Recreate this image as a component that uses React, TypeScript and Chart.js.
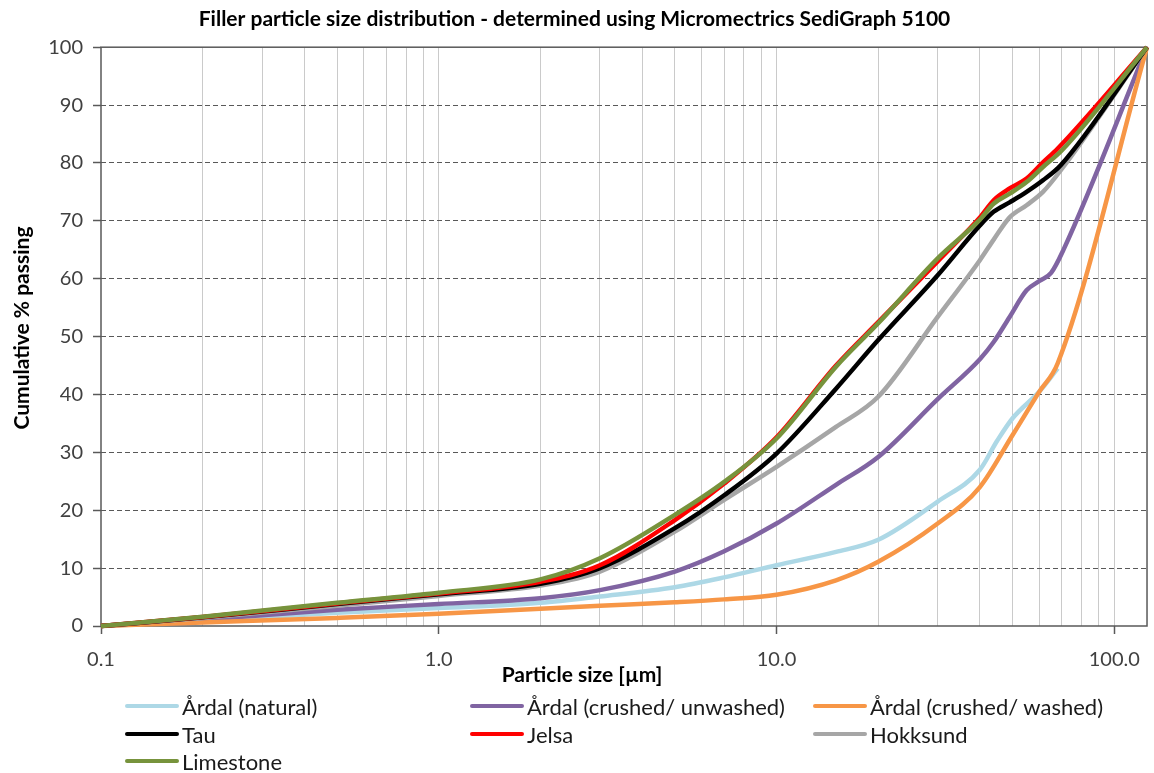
import React, { useEffect, useRef } from "react";
import { Chart, registerables } from "chart.js";

Chart.register(...registerables);

const chartTitle = "Filler particle size distribution - determined using Micromectrics SediGraph 5100";
const xAxisTitle = "Particle size [µm]";
const yAxisTitle = "Cumulative % passing";

const xGridValues = [
  0.1, 0.2, 0.3, 0.4, 0.5, 0.6, 0.7, 0.8, 0.9,
  1, 2, 3, 4, 5, 6, 7, 8, 9,
  10, 20, 30, 40, 50, 60, 70, 80, 90, 100,
];
const xMajorValues = [0.1, 1, 10, 100];
const xTickLabels = ["0.1", "1.0", "10.0", "100.0"];
const xMin = 0.1;
const xMax = 125;
const yTickValues = [0, 10, 20, 30, 40, 50, 60, 70, 80, 90, 100];

const seriesNames = [
  "Årdal (natural)",
  "Årdal (crushed/ unwashed)",
  "Årdal (crushed/ washed)",
  "Tau",
  "Jelsa",
  "Hokksund",
  "Limestone",
];
const seriesColors = ["#add8e6", "#8064a2", "#f79646", "#000000", "#ff0000", "#a6a6a6", "#77933c"];
const seriesOrder = [7, 6, 5, 3, 2, 4, 1];

const ardalNaturalSize = [0.1, 0.2, 0.5, 1, 2, 3, 5, 7, 10, 15, 20, 30, 40, 45, 50, 60, 68];
const ardalNaturalPassing = [0, 0.9, 2.3, 3.1, 4.0, 5.1, 6.7, 8.4, 10.5, 12.8, 14.9, 21.5, 27.0, 32.0, 35.9, 40.5, 44.5];

const ardalUnwashedSize = [0.1, 0.2, 0.5, 1, 2, 3, 5, 7, 10, 15, 20, 30, 40, 44, 49, 55, 60, 65, 70.6, 125];
const ardalUnwashedPassing = [0, 1.1, 2.8, 3.8, 4.8, 6.2, 9.4, 12.9, 17.7, 24.4, 29.2, 39.2, 46.1, 49.1, 53.4, 58.0, 59.6, 61.0, 64.9, 100];

const ardalWashedSize = [0.1, 0.2, 0.5, 1, 2, 3, 5, 7, 10, 15, 20, 30, 40, 50, 60, 68, 125];
const ardalWashedPassing = [0, 0.6, 1.4, 2.1, 3.0, 3.5, 4.1, 4.6, 5.4, 7.9, 11.1, 17.7, 24.0, 33.0, 40.5, 45.4, 100];

const tauSize = [0.1, 0.2, 0.5, 1, 2, 3, 5, 7, 10, 15, 20, 30, 40, 44, 49, 55, 61.5, 69.4, 125];
const tauPassing = [0, 1.5, 3.8, 5.5, 7.3, 10.0, 16.9, 22.6, 29.8, 41.0, 49.4, 60.6, 69.2, 71.6, 73.2, 75.0, 77.0, 79.6, 100];

const jelsaSize = [0.1, 0.2, 0.5, 1, 2, 3, 5, 7, 10, 15, 20, 30, 40, 44, 49, 55, 61.5, 68, 125];
const jelsaPassing = [0, 1.55, 3.9, 5.6, 7.65, 10.5, 18.3, 24.6, 32.6, 45.0, 52.5, 63.0, 70.6, 73.6, 75.6, 77.3, 80.1, 82.5, 100];

const hokksundSize = [0.1, 0.2, 0.5, 1, 2, 3, 5, 7, 10, 15, 20, 30, 40, 44, 49, 55, 61.5, 70, 125];
const hokksundPassing = [0, 1.4, 3.5, 5.2, 7.0, 9.4, 16.3, 21.8, 27.5, 34.4, 39.6, 53.4, 63.2, 66.8, 70.6, 72.7, 75.0, 79.0, 100];

const limestoneSize = [0.1, 0.2, 0.5, 1, 2, 3, 5, 7, 10, 15, 20, 30, 40, 44, 49, 55, 61.5, 70, 125];
const limestonePassing = [0, 1.6, 4.0, 5.75, 8.05, 11.7, 19.2, 24.9, 32.4, 44.8, 52.3, 63.5, 70.2, 73.0, 74.7, 76.7, 79.3, 82.2, 100];

const seriesSizes = [ardalNaturalSize, ardalUnwashedSize, ardalWashedSize, tauSize, jelsaSize, hokksundSize, limestoneSize];
const seriesPassing = [ardalNaturalPassing, ardalUnwashedPassing, ardalWashedPassing, tauPassing, jelsaPassing, hokksundPassing, limestonePassing];

const FONT = "Lato, 'Open Sans', sans-serif";
const W = 1154;
const H = 773;
const PLOT_LEFT = 101;
const PLOT_RIGHT = 1149;
const PLOT_BOTTOM = 626;

const legendColX = [125, 470, 813];
const legendRowY = [706, 734, 761];

function isMajor(v: number) {
  return xMajorValues.some((m) => Math.abs(Math.log10(v) - Math.log10(m)) < 1e-6);
}

const plotBorder = {
  id: "plotBorder",
  beforeDatasetsDraw(chart: any) {
    const { ctx, chartArea: a } = chart;
    ctx.save();
    ctx.strokeStyle = "#595959";
    ctx.lineWidth = 1.5;
    ctx.strokeRect(a.left, a.top, a.right - a.left, a.bottom - a.top);
    ctx.restore();
  },
};

const axisTitlesPlugin = {
  id: "axisTitlesPlugin",
  afterDraw(chart: any) {
    const { ctx } = chart;
    ctx.save();
    ctx.font = `bold 21px ${FONT}`;
    ctx.fillStyle = "#000";
    ctx.textAlign = "center";
    ctx.textBaseline = "middle";
    ctx.fillText(xAxisTitle, 582, 675);
    ctx.translate(22, 328);
    ctx.rotate(-Math.PI / 2);
    ctx.fillText(yAxisTitle, 0, 0);
    ctx.restore();
  },
};

export default function App() {
  const canvasRef = useRef<HTMLCanvasElement | null>(null);

  useEffect(() => {
    const canvas = canvasRef.current;
    if (!canvas) return;
    const datasets = seriesNames.map((name, i) => ({
      label: name,
      data: seriesSizes[i].map((x, j) => ({ x, y: seriesPassing[i][j] })),
      borderColor: seriesColors[i],
      backgroundColor: seriesColors[i],
      borderWidth: 4.5,
      pointRadius: 0,
      pointHoverRadius: 0,
      cubicInterpolationMode: "monotone" as const,
      fill: false,
      order: seriesOrder[i],
      clip: false as any,
    }));

    const chart = new Chart(canvas, {
      type: "line",
      data: { datasets },
      plugins: [plotBorder, axisTitlesPlugin],
      options: {
        animation: false,
        responsive: false,
        devicePixelRatio: 1,
        layout: { padding: { left: 0, right: W - PLOT_RIGHT, top: 0, bottom: 0 } },
        plugins: {
          legend: { display: false },
          tooltip: { enabled: false },
          title: {
            display: true,
            text: chartTitle,
            color: "#000",
            font: { family: FONT, size: 21, weight: "bold" },
            padding: { top: 7, bottom: 15 },
          },
        },
        scales: {
          x: {
            type: "logarithmic",
            min: xMin,
            max: xMax,
            afterBuildTicks: (scale: any) => {
              scale.ticks = xGridValues.map((v) => ({ value: v, major: isMajor(v) }));
            },
            afterFit: (scale: any) => {
              scale.height = H - PLOT_BOTTOM;
            },
            ticks: {
              autoSkip: false,
              maxRotation: 0,
              minRotation: 0,
              padding: 14,
              color: "#404040",
              font: { family: FONT, size: 20 },
              callback: (value: any) => {
                const idx = xMajorValues.findIndex((m) => Math.abs(Math.log10(Number(value)) - Math.log10(m)) < 1e-6);
                return idx >= 0 ? xTickLabels[idx] : "";
              },
            },
            grid: {
              color: (c: any) => (c.tick && c.tick.value === xMin ? "rgba(0,0,0,0)" : "#cacaca"),
              lineWidth: 1,
              tickLength: 8,
              tickColor: (c: any) => (c.tick && isMajor(c.tick.value) ? "#595959" : "rgba(0,0,0,0)"),
              tickWidth: 1.5,
            },
            border: { display: false },
            title: { display: false },
          },
          y: {
            type: "linear",
            min: 0,
            max: 100,
            afterBuildTicks: (scale: any) => {
              scale.ticks = yTickValues.map((v) => ({ value: v }));
            },
            afterFit: (scale: any) => {
              scale.width = PLOT_LEFT;
            },
            ticks: {
              padding: 10,
              color: "#404040",
              font: { family: FONT, size: 20 },
              callback: (value: any) => String(value),
            },
            grid: {
              color: (c: any) =>
                c.tick && (c.tick.value === 0 || c.tick.value === 100) ? "rgba(0,0,0,0)" : "#595959",
              lineWidth: 1,
              tickLength: 8,
              tickColor: "#595959",
              tickWidth: 1.5,
            },
            border: { display: false, dash: [5, 3] },
            title: { display: false },
          },
        },
      } as any,
    });
    return () => chart.destroy();
  }, []);

  return (
    <div style={{ position: "absolute", left: 0, top: 0, width: W, height: H, background: "#fff" }}>
      <canvas ref={canvasRef} width={W} height={H} style={{ display: "block", width: W, height: H }} />
      {seriesNames.map((name, i) => {
        const col = i % 3;
        const row = Math.floor(i / 3);
        return (
          <div
            key={name}
            style={{
              position: "absolute",
              left: legendColX[col],
              top: legendRowY[row] - 13,
              height: 26,
              display: "flex",
              alignItems: "center",
              fontFamily: FONT,
              fontSize: 22,
              color: "#1a1a1a",
              whiteSpace: "nowrap",
            }}
          >
            <span
              style={{
                display: "inline-block",
                width: 54,
                height: 4,
                borderRadius: 2,
                background: seriesColors[i],
                marginRight: 3,
              }}
            />
            <span>{name}</span>
          </div>
        );
      })}
    </div>
  );
}
